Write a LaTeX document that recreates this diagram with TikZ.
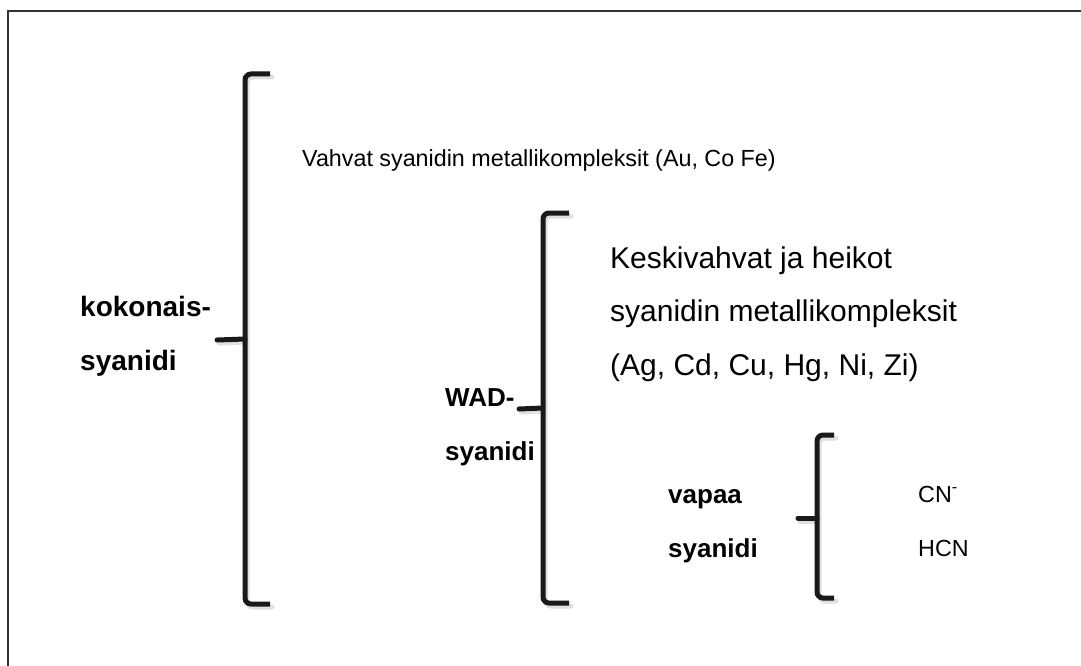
\documentclass[tikz,border=0pt]{standalone}
\usepackage{fontspec}
\setmainfont{Liberation Sans}
\begin{document}
\begin{tikzpicture}[x=1pt,y=-1pt,
  lbl/.style={anchor=base west,inner sep=0pt,font=\fontsize{23.3}{28}\selectfont},
  midlbl/.style={anchor=base west,inner sep=0pt,font=\fontsize{30}{35}\selectfont},
  blbl/.style={anchor=base west,inner sep=0pt,font=\fontsize{26}{31}\selectfont\bfseries},
  bigblbl/.style={anchor=base west,inner sep=0pt,font=\fontsize{28}{33}\selectfont\bfseries},
  bracket/.style={line width=5pt,rounded corners=6pt,draw=black!90},
  tip/.style={line width=5pt,line cap=round,draw=black!90},
  shade/.style={line width=5pt,rounded corners=6pt,draw=black!12,line cap=round}]
\useasboundingbox (0,0) rectangle (1081,666);
\clip (0,0) rectangle (1081,666);
\fill[white] (0,0) rectangle (1081,666);
\draw[line width=2pt,draw=black!80] (8,11) rectangle (1095,680);
% shadows
\begin{scope}[shift={(2,3)}]
\draw[shade] (270,74) -- (245,74) -- (245,604) -- (270,604);
\draw[shade] (245,339) -- (217,340);
\draw[shade] (569,213) -- (543,213) -- (543,603) -- (569,603);
\draw[shade] (543,408) -- (519,409);
\draw[shade] (834,435) -- (817,435) -- (817,598) -- (834,598);
\draw[shade] (817,518) -- (798,518);
\end{scope}
% brace 1
\draw[bracket] (270,74) -- (245,74) -- (245,604) -- (270,604);
\coordinate (b1) at (245,339);
\coordinate (t1) at (217,340);
\draw[tip] (b1) -- (t1);
% brace 2
\draw[bracket] (569,213) -- (543,213) -- (543,603) -- (569,603);
\coordinate (b2) at (543,408);
\coordinate (t2) at (519,409);
\draw[tip] (b2) -- (t2);
% brace 3
\draw[bracket] (834,435) -- (817,435) -- (817,598) -- (834,598);
\coordinate (b3) at (817,518);
\coordinate (t3) at (798,518);
\draw[tip] (b3) -- (t3);
% texts
\node[lbl] (strong) at (302,166) {Vahvat syanidin metallikompleksit (Au, Co Fe)};
\node[bigblbl] (tot1) at (80,316) {kokonais-};
\node[bigblbl] (tot2) at (80,370) {syanidi};
\node[blbl] (wad1) at (445,406) {WAD-};
\node[blbl] (wad2) at (445,460) {syanidi};
\node[midlbl] (mid1) at (610,268) {Keskivahvat ja heikot};
\node[midlbl] (mid2) at (610,321) {syanidin metallikompleksit};
\node[midlbl] (mid3) at (610,375) {(Ag, Cd, Cu, Hg, Ni, Zi)};
\node[blbl] (free1) at (668,503) {vapaa};
\node[blbl] (free2) at (668,557) {syanidi};
\node[lbl] (cn) at (918,502) {CN\textsuperscript{-}};
\node[lbl] (hcn) at (918,556) {HCN};
\end{tikzpicture}
\end{document}
